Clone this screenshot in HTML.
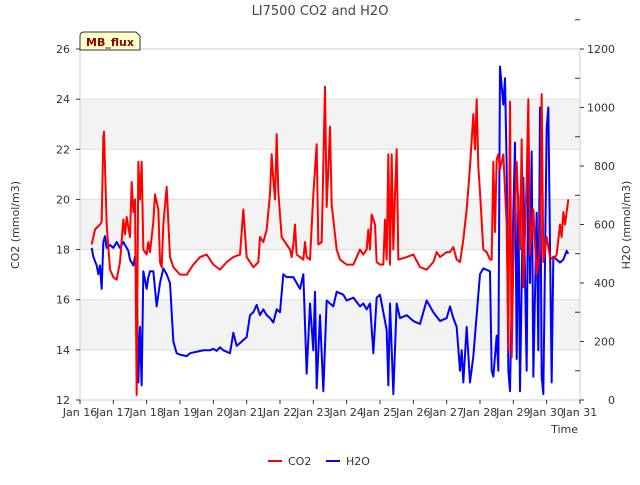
<!DOCTYPE html>
<html><head><meta charset="utf-8"><style>
body{margin:0;background:#fff;font-family:"Liberation Sans","DejaVu Sans",sans-serif}
</style></head><body>
<svg id="chart" width="640" height="480" xmlns="http://www.w3.org/2000/svg" font-family="DejaVu Sans, Liberation Sans, sans-serif">
<text x="320" y="15" text-anchor="middle" font-size="13" fill="#444">LI7500 CO2 and H2O</text>
<g id="bands"></g>
<rect x="80" y="49" width="500" height="351" fill="none" stroke="#ccc"/>
<g id="axes" font-size="11" fill="#333"></g>
<g id="series"></g>
<text transform="translate(19,225) rotate(-90)" text-anchor="middle" font-size="11" fill="#333">CO2 (mmol/m3)</text>
<text transform="translate(630,225) rotate(-90)" text-anchor="middle" font-size="11" fill="#333">H2O (mmol/m3)</text>
<text x="578" y="433" text-anchor="end" font-size="11" fill="#333">Time</text>
<g>
<path d="M80,50 L80,36 Q80,32 84,32 L136,32 L140,36 L140,50 Z" fill="#ffffcc" stroke="#333"/>
<text x="110" y="46" text-anchor="middle" font-size="11" font-weight="bold" fill="#8b0000">MB_flux</text>
</g>
<g font-size="11" fill="#333">
<g><line x1="268" y1="461" x2="282" y2="461" stroke="#f00" stroke-width="2"/><text x="288" y="465">CO2</text></g>
<g><line x1="326" y1="461" x2="340" y2="461" stroke="#00f" stroke-width="2"/><text x="346" y="465">H2O</text></g>
</g>
</svg>
<script>
const xTicks=["Jan 16","Jan 17","Jan 18","Jan 19","Jan 20","Jan 21","Jan 22","Jan 23","Jan 24","Jan 25","Jan 26","Jan 27","Jan 28","Jan 29","Jan 30","Jan 31"];
const leftTicks=[12,14,16,18,20,22,24,26];
const rightTicks=[0,200,400,600,800,1000,1200];
const co2Days=[0.35,0.45,0.6,0.65,0.7,0.72,0.8,0.9,1.0,1.1,1.2,1.3,1.35,1.4,1.5,1.55,1.6,1.65,1.7,1.75,1.8,1.85,1.9,2.0,2.05,2.1,2.2,2.25,2.35,2.4,2.45,2.5,2.6,2.7,2.8,3.0,3.2,3.4,3.6,3.8,4.0,4.2,4.4,4.6,4.8,4.85,4.9,5.0,5.2,5.35,5.4,5.5,5.6,5.7,5.75,5.8,5.85,5.9,5.95,6.05,6.2,6.3,6.35,6.4,6.45,6.5,6.6,6.7,6.75,6.8,6.9,7.0,7.1,7.15,7.25,7.35,7.4,7.45,7.5,7.55,7.7,7.8,8.0,8.2,8.4,8.5,8.6,8.65,8.7,8.75,8.85,8.9,9.0,9.1,9.15,9.2,9.25,9.3,9.35,9.4,9.45,9.5,9.55,9.8,10.0,10.2,10.4,10.6,10.7,10.8,10.9,11.0,11.1,11.2,11.3,11.4,11.5,11.6,11.7,11.8,11.85,11.9,11.95,12.0,12.1,12.2,12.3,12.35,12.4,12.45,12.5,12.55,12.6,12.7,12.8,12.85,12.9,12.95,13.0,13.1,13.2,13.25,13.3,13.4,13.45,13.5,13.6,13.7,13.8,13.85,13.9,14.0,14.1,14.2,14.3,14.4,14.45,14.5,14.55,14.65];
const co2Values=[18.2,18.8,19.0,19.1,22.5,22.7,19.0,17.2,16.9,16.8,17.5,19.2,18.6,19.3,18.5,20.7,19.5,20.0,12.2,21.5,20.0,21.5,18.0,17.8,18.3,17.9,19.1,20.2,19.6,17.5,17.3,19.0,20.5,17.7,17.3,17.0,17.0,17.4,17.7,17.8,17.4,17.2,17.5,17.7,17.8,18.7,19.6,17.7,17.3,17.5,18.5,18.3,18.8,20.2,21.8,20.8,20.0,22.6,20.3,18.5,18.2,18.0,17.7,18.2,19.0,17.8,17.7,17.6,18.3,17.7,17.6,20.2,22.2,18.2,18.3,24.5,19.7,21.2,22.9,19.8,18.0,17.6,17.4,17.4,18.0,17.8,18.0,18.8,18.0,19.4,19.0,17.5,17.4,17.4,19.2,17.6,21.8,17.4,21.8,18.0,20.2,22.0,17.6,17.7,17.8,17.3,17.2,17.5,17.9,17.7,17.8,17.9,17.9,18.1,17.6,17.5,18.4,19.6,21.3,23.4,22.0,24.0,21.3,20.3,18.0,17.9,17.6,17.6,21.5,18.7,21.6,21.8,21.2,21.8,19.0,14.0,23.9,13.7,17.5,21.5,18.0,22.4,16.5,20.8,24.0,17.8,19.6,17.0,18.0,24.2,17.5,18.5,17.7,17.6,17.8,19.0,18.5,19.5,19.0,20.0];
const h2oDays=[0.35,0.4,0.5,0.55,0.6,0.65,0.7,0.75,0.8,0.9,1.0,1.1,1.2,1.3,1.4,1.45,1.5,1.6,1.65,1.7,1.75,1.8,1.85,1.9,2.0,2.05,2.1,2.2,2.3,2.4,2.5,2.6,2.7,2.8,2.9,3.0,3.2,3.3,3.5,3.7,3.9,4.0,4.1,4.2,4.3,4.5,4.6,4.7,4.8,5.0,5.1,5.2,5.3,5.4,5.5,5.6,5.7,5.8,5.9,6.0,6.1,6.2,6.4,6.5,6.6,6.7,6.8,6.9,7.0,7.05,7.1,7.2,7.3,7.4,7.5,7.6,7.7,7.9,8.0,8.2,8.4,8.5,8.6,8.7,8.8,8.9,9.0,9.2,9.25,9.3,9.4,9.5,9.6,9.8,10.0,10.2,10.4,10.6,10.8,11.0,11.1,11.2,11.3,11.4,11.45,11.5,11.6,11.7,11.8,12.0,12.1,12.3,12.35,12.4,12.5,12.55,12.6,12.7,12.75,12.8,12.85,12.9,13.0,13.05,13.1,13.15,13.2,13.3,13.4,13.45,13.5,13.55,13.6,13.7,13.75,13.8,13.85,13.9,14.0,14.05,14.15,14.2,14.4,14.5,14.6,14.65];
const h2oValues=[520,490,460,430,460,380,540,560,520,530,520,540,520,540,520,510,480,460,490,420,60,250,50,440,380,420,440,440,320,400,450,430,400,200,160,155,150,160,165,170,170,175,168,180,170,160,230,185,195,215,290,300,325,290,310,290,280,265,310,300,430,420,420,400,380,430,90,330,170,370,40,290,30,340,330,320,370,360,340,350,320,330,310,330,160,350,360,240,50,330,20,330,280,290,270,260,340,300,270,280,320,280,250,100,170,60,250,60,150,430,450,440,100,80,220,100,1140,1010,1100,800,100,30,640,880,140,700,30,760,100,860,400,850,80,640,170,1000,80,20,930,1000,60,490,470,480,510,500];

const NS="http://www.w3.org/2000/svg";
const X0=80,X1=580,Y0=400,Y1=49;
const xScale=d=>X0+d*(X1-X0)/15;
const yL=v=>Y0-(v-12)*(Y0-Y1)/14;
const yR=v=>Y0-v*(Y0-Y1)/1200;
function mk(tag,attrs,parent){const e=document.createElementNS(NS,tag);for(const k in attrs)e.setAttribute(k,attrs[k]);parent.appendChild(e);return e;}
const bands=document.getElementById('bands');
[14,18,22].forEach(v=>{
 const r=mk('rect',{x:X0,y:yL(v+2),width:X1-X0,height:yL(v)-yL(v+2),fill:'#f3f3f3'},bands);
 
 
});
leftTicks.forEach(v=>{
 const l=mk('line',{x1:X0,x2:X1,y1:yL(v),y2:yL(v),stroke:'#ddd'},bands);
 
 
});
const axes=document.getElementById('axes');
xTicks.forEach((t,i)=>{
 const x=xScale(i);
 mk('line',{x1:x,x2:x,y1:Y0,y2:Y0+4,stroke:'#333'},axes);
 const tx=mk('text',{x:x,y:Y0+16,'text-anchor':'middle'},axes);tx.textContent=t;
 
 
});
leftTicks.forEach(v=>{
 mk('line',{x1:X0-4,x2:X0,y1:yL(v),y2:yL(v),stroke:'#333'},axes);
 const tx=mk('text',{x:X0-10,y:yL(v)+4,'text-anchor':'end'},axes);tx.textContent=v;
 
 
});
rightTicks.forEach(v=>{
 mk('line',{x1:X1,x2:X1+4,y1:yR(v),y2:yR(v),stroke:'#333'},axes);
 mk('line',{x1:X1-5,x2:X1,y1:yR(v+100),y2:yR(v+100),stroke:'#333'},axes);
 const tx=mk('text',{x:X1+35,y:yR(v)+4,'text-anchor':'end'},axes);tx.textContent=v;
 
 
});
const series=document.getElementById('series');
const h=mk('polyline',{points:h2oDays.map((d,i)=>xScale(d)+','+yR(h2oValues[i])).join(' '),fill:'none',stroke:'#0000ff','stroke-width':2,'stroke-linejoin':'round'},series);


const c=mk('polyline',{points:co2Days.map((d,i)=>xScale(d)+','+yL(co2Values[i])).join(' '),fill:'none',stroke:'#ff0000','stroke-width':2,'stroke-linejoin':'round'},series);


</script>
</body></html>
